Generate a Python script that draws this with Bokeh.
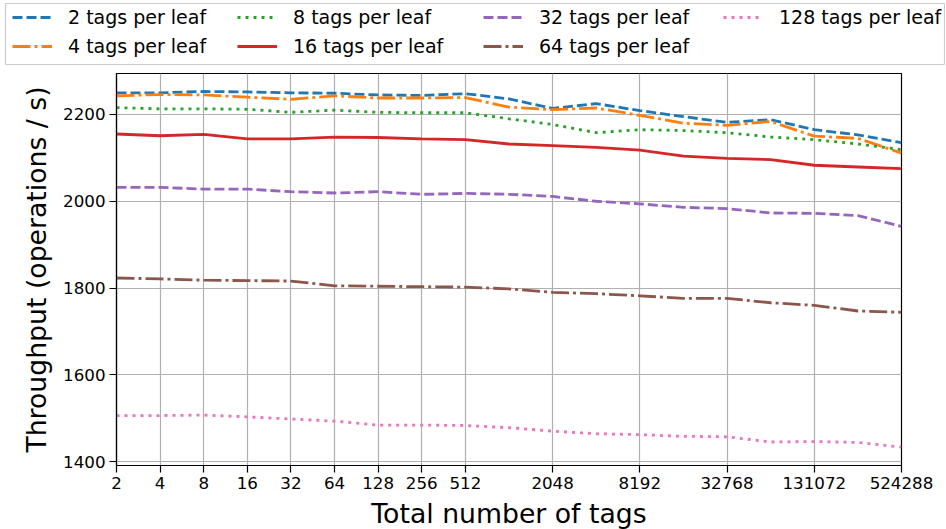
from bokeh.plotting import figure
from bokeh.models import (Range1d, FixedTicker, NumeralTickFormatter, Legend, LegendItem)
from bokeh.embed import file_html
from bokeh.resources import INLINE

total_tags = [2, 4, 8, 16, 32, 64, 128, 256, 512, 1024, 2048, 4096, 8192,
              16384, 32768, 65536, 131072, 262144, 524288]
x_ticks = [2, 4, 8, 16, 32, 64, 128, 256, 512, 2048, 8192, 32768, 131072, 524288]
y_ticks = [1400, 1600, 1800, 2000, 2200]

tags2 = [2250, 2250, 2253, 2252, 2250, 2249, 2245, 2244, 2248, 2236, 2214, 2225, 2209, 2195, 2182, 2188, 2165, 2153, 2135]
tags4 = [2243, 2246, 2245, 2240, 2235, 2243, 2238, 2238, 2239, 2217, 2211, 2215, 2198, 2180, 2175, 2184, 2150, 2145, 2111]
tags8 = [2216, 2213, 2213, 2212, 2205, 2210, 2205, 2204, 2204, 2190, 2177, 2158, 2165, 2163, 2158, 2148, 2142, 2132, 2119]
tags16 = [2155, 2151, 2154, 2144, 2144, 2148, 2147, 2144, 2142, 2132, 2128, 2124, 2118, 2104, 2099, 2096, 2083, 2079, 2075]
tags32 = [2032, 2032, 2028, 2028, 2022, 2019, 2022, 2016, 2018, 2016, 2011, 2000, 1994, 1986, 1983, 1973, 1972, 1967, 1942]
tags64 = [1823, 1821, 1818, 1817, 1816, 1805, 1804, 1803, 1802, 1798, 1790, 1787, 1782, 1776, 1776, 1766, 1760, 1747, 1744]
tags128 = [1506, 1506, 1507, 1503, 1498, 1493, 1484, 1484, 1483, 1478, 1470, 1464, 1462, 1458, 1457, 1445, 1446, 1444, 1433]

labels = ["2 tags per leaf", "4 tags per leaf", "8 tags per leaf", "16 tags per leaf",
          "32 tags per leaf", "64 tags per leaf", "128 tags per leaf"]
series = [tags2, tags4, tags8, tags16, tags32, tags64, tags128]
colors = ["#1f77b4", "#ff7f0e", "#2ca02c", "#d62728", "#9467bd", "#8c564b", "#e377c2"]
dashes = ["10 4", "18 4 3 4", "3 5", "solid", "10 4", "18 4 3 4", "3 5"]

FONT = "DejaVu Sans"

# ---- legend strip (separate root so the legend can span the full width) ----
# its frame outline is the legend box
leg_fig = figure(width=945, height=70, output_backend="svg", toolbar_location=None,
                 x_axis_location=None, y_axis_location=None,
                 x_range=Range1d(0, 1), y_range=Range1d(0, 1),
                 min_border_left=5, min_border_right=1, min_border_top=3, min_border_bottom=6)
leg_fig.grid.visible = False
leg_fig.outline_line_color = "#cccccc"
leg_fig.outline_line_width = 1.2
leg_fig.background_fill_color = "white"
leg_fig.border_fill_color = "white"

# ---- main plot ----
p = figure(x_axis_type="log", frame_width=785, frame_height=392,
           min_border_left=116, min_border_right=44, min_border_top=3, min_border_bottom=20,
           output_backend="svg", toolbar_location=None,
           x_range=Range1d(2, 524288), y_range=Range1d(1390.8, 2294.5))

items = []
for lab, ys, c, d in zip(labels, series, colors, dashes):
    p.line(total_tags, ys, line_color=c, line_width=2.8, line_dash=d)
    # same series in the legend strip; it lies outside that strip's ranges
    proxy = leg_fig.line(total_tags, ys, line_color=c, line_width=2.8, line_dash=d)
    items.append(LegendItem(label=lab, renderers=[proxy]))

p.xaxis.ticker = FixedTicker(ticks=x_ticks, minor_ticks=[])
p.xaxis.formatter = NumeralTickFormatter(format="0")
p.yaxis.ticker = FixedTicker(ticks=y_ticks, minor_ticks=[])

for ax in (p.xaxis, p.yaxis):
    ax.major_label_text_font = FONT
    ax.major_label_text_font_size = "16.7px"
    ax.major_label_text_color = "black"
    ax.axis_label_text_font = FONT
    ax.axis_label_text_font_size = "26.7px"
    ax.axis_label_text_font_style = "normal"
    ax.axis_label_text_color = "black"
    ax.major_tick_out = 7
    ax.major_tick_in = 0
    ax.minor_tick_out = 0
    ax.minor_tick_in = 0
    ax.major_tick_line_color = "black"
    ax.major_tick_line_width = 1.2
    ax.axis_line_color = "black"
    ax.axis_line_width = 1.2
    ax.major_label_standoff = 4

p.xaxis.axis_label_standoff = 6
p.yaxis.axis_label_standoff = 8

p.xaxis.axis_label = "Total number of tags"
p.yaxis.axis_label = "Throughput (operations / s)"

p.grid.grid_line_color = "#b0b0b0"
p.grid.grid_line_width = 1.2
p.outline_line_color = "black"
p.outline_line_width = 1.2
p.background_fill_color = "white"
p.border_fill_color = "white"

# four legend columns (column-wise order, as in the reference)
column_items = [items[0:2], items[2:4], items[4:6], items[6:7]]
column_loc = [(7, 6), (232, 6), (478, 6), (718, 35)]
for its, loc in zip(column_items, column_loc):
    lg = Legend(items=its, orientation="vertical", location=loc,
                label_text_font=FONT, label_text_font_size="19px",
                label_text_color="black",
                glyph_width=40, glyph_height=24, label_height=24,
                label_standoff=16, spacing=5, padding=0, margin=0,
                border_line_color=None, background_fill_alpha=0)
    leg_fig.add_layout(lg, "center")

open("out.html", "w").write(file_html([leg_fig, p], INLINE))
